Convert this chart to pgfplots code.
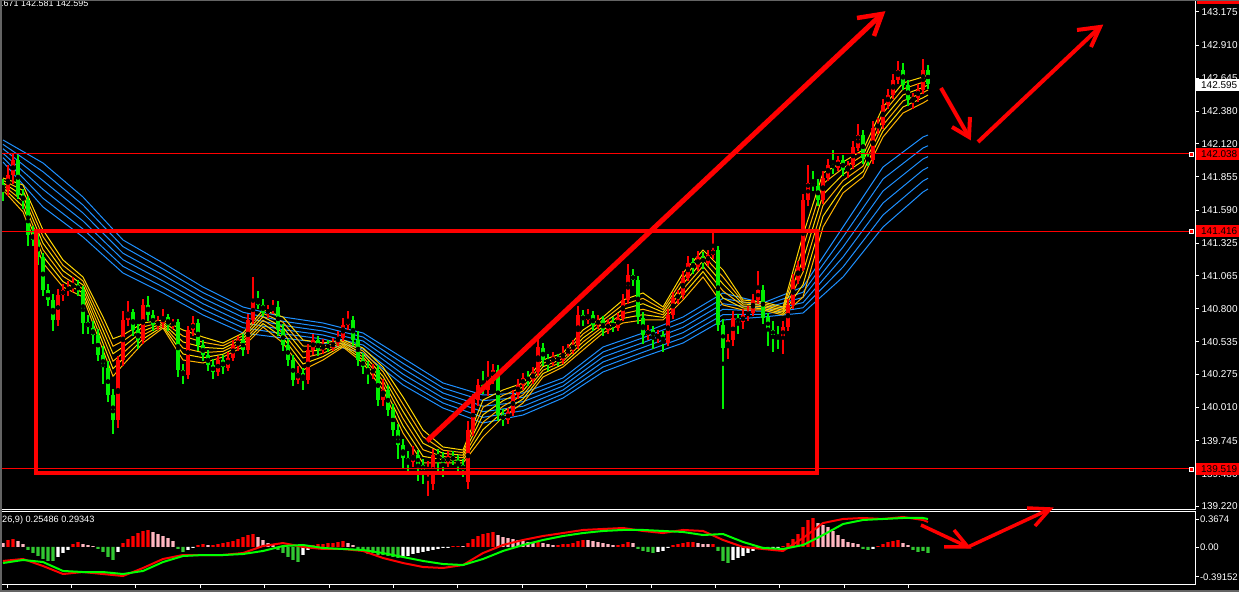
\documentclass[border=0pt]{standalone}
\usepackage{fontspec}
\setmainfont{Liberation Sans}
\usepackage{pgfplots}
\usepackage{pgfplotstable}
\pgfplotsset{compat=1.18}
\definecolor{bull}{RGB}{255,0,0}
\definecolor{bear}{RGB}{0,240,0}
\definecolor{ygold}{RGB}{255,215,0}
\definecolor{yorng}{RGB}{255,180,0}
\definecolor{dblue}{RGB}{30,144,255}
\definecolor{hpink}{RGB}{255,182,193}
\definecolor{hgreen}{RGB}{50,200,50}
\definecolor{lgreen}{RGB}{0,255,0}
\definecolor{strip}{RGB}{100,100,100}

\pgfplotstableread{
o h l c
141.80 141.84 141.66 141.75
141.75 141.95 141.70 141.87
141.87 142.05 141.80 141.99
141.99 142.03 141.68 141.71
141.71 141.76 141.60 141.67
141.67 141.70 141.30 141.39
141.39 141.46 141.30 141.35
141.35 141.40 141.15 141.21
141.21 141.25 140.90 140.95
140.95 141.00 140.82 140.87
140.87 140.92 140.62 140.71
140.71 140.96 140.66 140.91
140.91 141.00 140.86 140.95
140.95 141.02 140.90 140.97
140.97 141.05 140.93 140.99
140.99 141.03 140.90 140.95
140.95 140.98 140.60 140.69
140.69 140.75 140.60 140.65
140.65 140.70 140.52 140.59
140.59 140.64 140.38 140.43
140.43 140.50 140.20 140.33
140.33 140.38 140.05 140.11
140.11 140.16 139.80 139.91
139.91 140.42 139.85 140.39
140.39 140.78 140.34 140.71
140.71 140.86 140.66 140.77
140.77 140.80 140.58 140.63
140.63 140.68 140.48 140.55
140.55 140.88 140.52 140.83
140.83 140.90 140.70 140.75
140.75 140.79 140.62 140.67
140.67 140.74 140.63 140.69
140.69 140.80 140.65 140.73
140.73 140.76 140.62 140.67
140.67 140.72 140.64 140.69
140.69 140.72 140.25 140.31
140.31 140.36 140.20 140.27
140.27 140.66 140.24 140.63
140.63 140.74 140.58 140.69
140.69 140.72 140.46 140.51
140.51 140.55 140.38 140.43
140.43 140.47 140.30 140.35
140.35 140.40 140.24 140.29
140.29 140.42 140.26 140.39
140.39 140.43 140.28 140.33
140.33 140.45 140.30 140.41
140.41 140.55 140.38 140.51
140.51 140.58 140.46 140.55
140.55 140.60 140.42 140.47
140.47 140.76 140.44 140.71
140.71 141.05 140.68 140.87
140.87 140.94 140.80 140.83
140.83 140.88 140.74 140.77
140.77 140.83 140.73 140.79
140.79 140.87 140.76 140.81
140.81 140.86 140.58 140.63
140.63 140.68 140.46 140.51
140.51 140.56 140.34 140.39
140.39 140.43 140.18 140.23
140.23 140.34 140.20 140.29
140.29 140.33 140.15 140.23
140.23 140.52 140.20 140.47
140.47 140.60 140.43 140.55
140.55 140.58 140.42 140.47
140.47 140.56 140.44 140.51
140.51 140.55 140.45 140.49
140.49 140.57 140.46 140.53
140.53 140.62 140.50 140.57
140.57 140.73 140.54 140.67
140.67 140.78 140.63 140.71
140.71 140.74 140.50 140.55
140.55 140.62 140.34 140.39
140.39 140.45 140.28 140.33
140.33 140.38 140.20 140.29
140.29 140.36 140.24 140.31
140.31 140.35 140.02 140.07
140.07 140.24 140.02 140.15
140.15 140.19 139.94 139.99
139.99 140.04 139.78 139.83
139.83 139.88 139.60 139.71
139.71 139.76 139.52 139.61
139.61 139.66 139.48 139.57
139.57 139.70 139.53 139.63
139.63 139.67 139.42 139.55
139.55 139.60 139.40 139.51
139.51 139.58 139.30 139.53
139.40 139.68 139.35 139.63
139.63 139.68 139.50 139.61
139.61 139.65 139.45 139.57
139.57 139.66 139.53 139.62
139.62 139.66 139.55 139.59
139.59 139.63 139.48 139.55
139.55 139.60 139.45 139.51
139.41 139.90 139.36 139.83
139.83 140.12 139.78 140.07
140.07 140.24 140.02 140.19
140.19 140.30 140.12 140.15
140.15 140.38 140.10 140.25
140.25 140.36 140.20 140.31
140.31 140.35 139.90 139.95
139.95 140.00 139.86 139.91
139.91 140.01 139.88 139.97
139.97 140.15 139.94 140.11
140.11 140.24 140.08 140.19
140.19 140.29 140.15 140.25
140.25 140.30 140.18 140.23
140.23 140.33 140.20 140.29
140.29 140.56 140.26 140.49
140.49 140.53 140.34 140.39
140.39 140.44 140.30 140.37
140.37 140.45 140.34 140.41
140.41 140.44 140.34 140.39
140.39 140.50 140.36 140.45
140.45 140.52 140.42 140.47
140.47 140.55 140.44 140.51
140.51 140.82 140.48 140.75
140.75 140.79 140.66 140.71
140.71 140.80 140.68 140.75
140.75 140.78 140.62 140.67
140.67 140.75 140.64 140.71
140.71 140.74 140.58 140.63
140.63 140.72 140.60 140.69
140.69 140.73 140.61 140.65
140.65 140.77 140.62 140.73
140.73 140.92 140.70 140.87
140.87 141.16 140.84 141.07
141.07 141.12 140.98 141.03
141.03 141.06 140.68 140.73
140.73 140.77 140.52 140.59
140.59 140.67 140.55 140.63
140.63 140.66 140.48 140.57
140.57 140.63 140.53 140.59
140.59 140.62 140.45 140.53
140.53 140.80 140.50 140.75
140.75 140.93 140.72 140.89
140.89 140.95 140.84 140.91
140.91 141.10 140.88 141.05
141.05 141.22 141.02 141.17
141.17 141.21 141.08 141.13
141.13 141.26 141.10 141.21
141.21 141.25 141.12 141.17
141.17 141.27 141.14 141.23
141.23 141.41 141.20 141.27
141.27 141.30 140.62 140.67
140.67 140.72 140.00 140.49
140.49 140.60 140.40 140.55
140.55 140.78 140.50 140.73
140.73 140.76 140.60 140.69
140.69 140.80 140.64 140.75
140.75 140.82 140.70 140.77
140.77 140.92 140.74 140.87
140.87 141.10 140.84 140.95
140.95 140.99 140.68 140.73
140.73 140.77 140.50 140.63
140.63 140.70 140.45 140.59
140.59 140.66 140.48 140.57
140.57 140.70 140.44 140.65
140.65 140.88 140.62 140.83
140.83 141.08 140.80 141.03
141.03 141.18 141.00 141.13
141.13 141.72 141.10 141.67
141.67 141.95 141.62 141.81
141.81 141.90 141.74 141.78
141.78 141.84 141.62 141.67
141.67 141.90 141.64 141.85
141.85 142.00 141.82 141.95
141.95 142.07 141.88 141.93
141.93 142.02 141.90 141.99
141.99 142.03 141.86 141.91
141.91 141.98 141.85 141.95
141.95 142.14 141.92 142.09
142.09 142.28 142.06 142.19
142.19 142.23 141.96 142.01
142.01 142.05 141.94 141.99
141.99 142.30 141.96 142.25
142.25 142.33 142.20 142.27
142.27 142.48 142.24 142.43
142.43 142.56 142.40 142.51
142.51 142.68 142.48 142.63
142.63 142.78 142.60 142.71
142.71 142.77 142.55 142.59
142.59 142.63 142.42 142.47
142.47 142.53 142.40 142.49
142.49 142.60 142.45 142.55
142.55 142.80 142.52 142.71
142.71 142.75 142.56 142.60
}\candles

\pgfplotstableread{
i y1 y2 y3 y4 y5 y6
0 141.846 141.827 141.808 141.788 141.769 141.750
4 141.790 141.747 141.704 141.660 141.617 141.574
8 141.430 141.377 141.324 141.272 141.219 141.166
12 141.190 141.147 141.104 141.060 141.017 140.974
16 141.054 141.022 140.990 140.958 140.926 140.894
20 140.734 140.681 140.628 140.576 140.523 140.470
22 140.560 140.500 140.440 140.380 140.320 140.260
24 140.590 140.542 140.494 140.446 140.398 140.350
28 140.686 140.654 140.622 140.590 140.558 140.526
32 140.710 140.697 140.684 140.672 140.659 140.646
36 140.630 140.582 140.534 140.486 140.438 140.390
40 140.574 140.532 140.491 140.449 140.408 140.366
44 140.526 140.504 140.481 140.459 140.436 140.414
48 140.606 140.584 140.561 140.539 140.516 140.494
52 140.790 140.763 140.736 140.708 140.681 140.654
56 140.734 140.692 140.651 140.609 140.568 140.526
60 140.550 140.502 140.454 140.406 140.358 140.310
64 140.526 140.499 140.472 140.444 140.417 140.390
68 140.550 140.539 140.528 140.516 140.505 140.494
72 140.486 140.462 140.438 140.414 140.390 140.366
76 140.334 140.297 140.260 140.224 140.187 140.150
80 140.094 140.036 139.979 139.921 139.864 139.806
84 139.830 139.777 139.724 139.672 139.619 139.566
88 139.694 139.668 139.643 139.617 139.592 139.566
92 139.670 139.649 139.628 139.608 139.587 139.566
96 140.070 140.011 139.952 139.892 139.833 139.774
100 140.150 140.107 140.064 140.020 139.977 139.934
104 140.206 140.174 140.142 140.110 140.078 140.046
108 140.390 140.363 140.336 140.308 140.281 140.254
112 140.446 140.424 140.401 140.379 140.356 140.334
116 140.630 140.598 140.566 140.534 140.502 140.470
120 140.734 140.708 140.683 140.657 140.632 140.606
124 140.870 140.833 140.796 140.760 140.723 140.686
128 140.926 140.883 140.840 140.796 140.753 140.710
132 140.814 140.793 140.772 140.752 140.731 140.710
136 141.086 141.043 141.000 140.956 140.913 140.870
140 141.270 141.227 141.184 141.140 141.097 141.054
144 141.110 141.054 140.998 140.942 140.886 140.830
148 140.870 140.854 140.838 140.822 140.806 140.790
152 140.854 140.841 140.828 140.816 140.803 140.790
156 140.814 140.801 140.788 140.776 140.763 140.750
160 141.390 141.291 141.192 141.092 140.993 140.894
164 141.886 141.800 141.713 141.627 141.540 141.454
168 141.974 141.924 141.875 141.825 141.776 141.726
172 142.070 142.027 141.984 141.940 141.897 141.854
176 142.414 142.366 142.318 142.270 142.222 142.174
180 142.606 142.558 142.510 142.462 142.414 142.366
184 142.654 142.612 142.571 142.529 142.488 142.446
185 142.670 142.630 142.590 142.550 142.510 142.470
}\yel

\pgfplotstableread{
i b1 b2 b3 b4 b5 b6
0 142.150 142.115 142.080 142.044 142.009 141.974
8 141.966 141.896 141.825 141.755 141.684 141.614
16 141.694 141.630 141.566 141.502 141.438 141.374
24 141.350 141.297 141.244 141.192 141.139 141.086
32 141.166 141.118 141.070 141.022 140.974 140.926
40 140.974 140.929 140.884 140.840 140.795 140.750
48 140.814 140.772 140.731 140.689 140.648 140.606
56 140.734 140.700 140.667 140.633 140.600 140.566
64 140.686 140.654 140.622 140.590 140.558 140.526
72 140.606 140.574 140.542 140.510 140.478 140.446
80 140.406 140.363 140.320 140.276 140.233 140.190
88 140.206 140.166 140.126 140.086 140.046 140.006
96 140.110 140.065 140.020 139.976 139.931 139.886
104 140.126 140.091 140.056 140.020 139.985 139.950
112 140.246 140.214 140.182 140.150 140.118 140.086
120 140.494 140.454 140.414 140.374 140.334 140.294
128 140.606 140.568 140.529 140.491 140.452 140.414
136 140.734 140.692 140.651 140.609 140.568 140.526
144 140.926 140.883 140.840 140.796 140.753 140.710
152 140.846 140.824 140.801 140.779 140.756 140.734
160 140.974 140.932 140.891 140.849 140.808 140.766
168 141.454 141.374 141.294 141.214 141.134 141.054
176 141.934 141.838 141.742 141.646 141.550 141.454
184 142.174 142.086 141.998 141.910 141.822 141.734
185 142.190 142.104 142.017 141.931 141.844 141.758
}\blu

\pgfplotstableread{
i r g
0 -0.183 -0.210
4 -0.157 -0.170
8 -0.249 -0.197
12 -0.354 -0.314
16 -0.328 -0.328
20 -0.354 -0.328
24 -0.380 -0.354
28 -0.275 -0.314
32 -0.157 -0.197
36 -0.105 -0.118
40 -0.105 -0.105
44 -0.105 -0.105
48 -0.079 -0.092
52 0.013 -0.052
56 0.052 0.013
60 0.000 0.026
64 -0.026 -0.013
68 -0.026 -0.026
72 -0.052 -0.039
76 -0.144 -0.079
80 -0.210 -0.131
84 -0.262 -0.183
88 -0.275 -0.223
92 -0.236 -0.236
96 -0.079 -0.157
100 0.026 -0.052
104 0.092 0.026
108 0.144 0.092
112 0.183 0.144
116 0.223 0.183
120 0.236 0.210
124 0.249 0.223
128 0.210 0.223
132 0.183 0.210
136 0.223 0.197
140 0.210 0.157
144 0.092 0.170
148 0.000 0.066
152 -0.026 -0.013
156 -0.052 -0.026
160 0.118 0.026
164 0.314 0.157
168 0.367 0.301
172 0.380 0.354
176 0.367 0.367
180 0.393 0.380
184 0.354 0.380
185 0.328 0.367
}\macd

\pgfplotstableread{
i v
1 0.091
2 0.104
14 0.039
15 0.065
24 0.052
25 0.104
26 0.143
27 0.182
28 0.208
29 0.221
39 0.026
40 0.039
42 0.026
43 0.039
44 0.052
45 0.065
46 0.078
47 0.104
48 0.130
49 0.156
50 0.169
62 0.026
63 0.039
64 0.039
65 0.052
66 0.052
67 0.065
68 0.078
90 0.013
91 0.013
93 0.052
94 0.104
95 0.143
96 0.169
97 0.182
98 0.195
107 0.065
111 0.026
112 0.039
113 0.039
114 0.052
115 0.078
116 0.091
123 0.026
124 0.039
125 0.065
134 0.026
135 0.039
136 0.052
137 0.065
138 0.065
142 0.039
156 0.013
157 0.052
158 0.104
159 0.169
160 0.260
161 0.351
162 0.377
175 0.013
176 0.039
177 0.065
178 0.078
179 0.091
}\hred

\pgfplotstableread{
i v
0 0.052
3 0.078
4 0.039
16 0.039
17 0.026
18 0.013
30 0.195
31 0.169
32 0.143
33 0.117
34 0.078
41 0.026
51 0.130
52 0.091
53 0.052
54 0.026
69 0.052
70 0.026
92 0.013
99 0.156
100 0.130
101 0.117
102 0.104
103 0.091
104 0.078
105 0.065
106 0.052
108 0.052
109 0.039
110 0.026
117 0.091
118 0.078
119 0.065
120 0.052
121 0.039
122 0.026
126 0.052
139 0.052
140 0.039
141 0.039
163 0.312
164 0.286
165 0.260
166 0.208
167 0.156
168 0.104
169 0.065
170 0.052
171 0.039
180 0.052
181 0.026
}\hpnk

\pgfplotstableread{
i v
5 -0.039
6 -0.078
7 -0.117
8 -0.156
9 -0.182
10 -0.182
19 -0.026
20 -0.065
21 -0.130
22 -0.169
35 -0.026
36 -0.065
55 -0.039
56 -0.078
57 -0.130
58 -0.169
59 -0.195
71 -0.039
72 -0.065
73 -0.091
74 -0.078
75 -0.104
76 -0.104
77 -0.117
78 -0.130
79 -0.143
127 -0.026
128 -0.052
129 -0.065
130 -0.078
143 -0.052
144 -0.182
145 -0.208
152 -0.026
153 -0.026
172 -0.026
173 -0.039
182 -0.039
183 -0.065
184 -0.052
185 -0.078
}\hgrn

\pgfplotstableread{
i v
11 -0.130
12 -0.078
13 -0.039
23 -0.065
37 -0.039
38 -0.013
60 -0.104
61 -0.039
80 -0.130
81 -0.117
82 -0.091
83 -0.078
84 -0.065
85 -0.052
86 -0.039
87 -0.026
88 -0.013
89 -0.013
131 -0.065
132 -0.052
133 -0.013
146 -0.169
147 -0.143
148 -0.117
149 -0.078
150 -0.052
151 -0.026
154 -0.026
155 -0.013
174 -0.026
}\hwht

\begin{document}
\begin{tikzpicture}[x=1bp,y=1bp]
\fill[black] (0,0) rectangle (1239,592);

% ---------- main price panel ----------
\begin{axis}[
  at={(0bp,83bp)}, anchor=south west,
  width=1195bp, height=504bp, scale only axis,
  xmin=-0.6, xmax=238.4, ymin=139.198, ymax=143.23,
  axis line style={draw=none},
  xtick=\empty,
  ytick={143.175,142.910,142.645,142.380,142.120,141.855,141.590,141.325,141.065,140.800,140.535,140.275,140.010,139.745,139.480,139.220},
  yticklabels={143.175,142.910,142.645,142.380,142.120,141.855,141.590,141.325,141.065,140.800,140.535,140.275,140.010,139.745,139.480,139.220},
  ytick pos=right, yticklabel pos=right,
  tick align=outside, major tick length=4bp,
  tick style={white, line width=0.8bp},
  yticklabel style={text=white, font=\fontsize{10}{12}\selectfont, xshift=-1bp},
]
% blue (long) averages
\addplot[dblue, line width=1bp] table[x=i, y=b1] {\blu};
\addplot[dblue, line width=1bp] table[x=i, y=b2] {\blu};
\addplot[dblue, line width=1bp] table[x=i, y=b3] {\blu};
\addplot[dblue, line width=1bp] table[x=i, y=b4] {\blu};
\addplot[dblue, line width=1bp] table[x=i, y=b5] {\blu};
\addplot[dblue, line width=1bp] table[x=i, y=b6] {\blu};
% yellow (short) averages
\addplot[ygold, line width=1bp] table[x=i, y=y1] {\yel};
\addplot[yorng, line width=1bp] table[x=i, y=y2] {\yel};
\addplot[ygold, line width=1bp] table[x=i, y=y3] {\yel};
\addplot[yorng, line width=1bp] table[x=i, y=y4] {\yel};
\addplot[ygold, line width=1bp] table[x=i, y=y5] {\yel};
\addplot[yorng, line width=1bp] table[x=i, y=y6] {\yel};
% wicks
\addplot[only marks, mark=none, error bars/.cd, y dir=both, y explicit, error mark=none,
  error bar style={draw=bull, line width=1.2bp}]
  table[x expr=\coordindex, y expr={\thisrow{c}>\thisrow{o} ? (\thisrow{h}+\thisrow{l})/2 : nan},
        y error expr={(\thisrow{h}-\thisrow{l})/2}] {\candles};
\addplot[only marks, mark=none, error bars/.cd, y dir=both, y explicit, error mark=none,
  error bar style={draw=bear, line width=1.2bp}]
  table[x expr=\coordindex, y expr={\thisrow{c}<\thisrow{o} ? (\thisrow{h}+\thisrow{l})/2 : nan},
        y error expr={(\thisrow{h}-\thisrow{l})/2}] {\candles};
% bodies
\addplot[only marks, mark=none, error bars/.cd, y dir=both, y explicit, error mark=none,
  error bar style={draw=bull, line width=3.8bp}]
  table[x expr=\coordindex, y expr={\thisrow{c}>\thisrow{o} ? (\thisrow{o}+\thisrow{c})/2 : nan},
        y error expr={(\thisrow{c}-\thisrow{o})/2}] {\candles};
\addplot[only marks, mark=none, error bars/.cd, y dir=both, y explicit, error mark=none,
  error bar style={draw=bear, line width=3.8bp}]
  table[x expr=\coordindex, y expr={\thisrow{c}<\thisrow{o} ? (\thisrow{o}+\thisrow{c})/2 : nan},
        y error expr={(\thisrow{o}-\thisrow{c})/2}] {\candles};
\end{axis}

% ---------- MACD panel ----------
\begin{axis}[
  at={(0bp,8bp)}, anchor=south west,
  width=1195bp, height=73bp, scale only axis,
  xmin=-0.6, xmax=238.4, ymin=-0.4847, ymax=0.4716,
  axis line style={white, line width=0.8bp},
  xtick={0.8,13.68,26.56,39.44,52.32,65.2,78.08,90.96,103.84,116.72,129.6,142.48,155.36,168.24,181.12},
  xticklabels={}, xtick pos=bottom,
  ytick={-0.39152,0,0.3674}, yticklabels={-0.39152,0.00,0.3674},
  ytick pos=right, yticklabel pos=right,
  tick align=outside, major tick length=4bp,
  tick style={white, line width=0.8bp},
  yticklabel style={text=white, font=\fontsize{9.6}{12}\selectfont, xshift=-2.5bp},
]
\addplot[ybar, bar width=3.2bp, bar shift=0bp, fill=bull, draw=none] table[x=i, y=v] {\hred};
\addplot[ybar, bar width=3.2bp, bar shift=0bp, fill=hpink, draw=none] table[x=i, y=v] {\hpnk};
\addplot[ybar, bar width=3.2bp, bar shift=0bp, fill=hgreen, draw=none] table[x=i, y=v] {\hgrn};
\addplot[ybar, bar width=3.2bp, bar shift=0bp, fill=white, draw=none] table[x=i, y=v] {\hwht};
\addplot[bull, line width=2bp] table[x=i, y=r] {\macd};
\addplot[lgreen, line width=2bp] table[x=i, y=g] {\macd};
\end{axis}

% main panel frame (right and bottom)
\draw[white, line width=0.8bp] (1195.4,592) -- (1195.4,83) -- (0,83);

% horizontal price lines with end markers
\foreach \yy in {438,360.5,123}{
  \draw[bull, line width=1bp] (0,\yy) -- (1192,\yy);
  \draw[white, fill=bull, line width=0.7bp] (1189.5,\yy-2) rectangle (1193.5,\yy+2);
}
% price label boxes
\fill[bull] (1196,432) rectangle (1239,444);
\node[anchor=west, inner sep=0, text=black, font=\fontsize{10}{12}\selectfont] at (1201,438) {142.038};
\fill[bull] (1196,354.5) rectangle (1239,366.5);
\node[anchor=west, inner sep=0, text=black, font=\fontsize{10}{12}\selectfont] at (1201,360.5) {141.416};
\fill[bull] (1196,117) rectangle (1239,129);
\node[anchor=west, inner sep=0, text=black, font=\fontsize{10}{12}\selectfont] at (1201,123) {139.519};
\fill[white] (1196,501) rectangle (1239,513);
\node[anchor=west, inner sep=0, text=black, font=\fontsize{10}{12}\selectfont] at (1201,507) {142.595};
\fill[bull] (1197,588) rectangle (1239,592);

% red drawings: box and arrows
\draw[bull, line width=4bp] (35.5,361) rectangle (816.5,118.5);
\draw[bull, line width=5bp] (427,151) -- (882,578);
\draw[bull, line width=4.5bp, line join=miter] (857,574) -- (882,578) -- (874,556);
\draw[bull, line width=4bp] (941,504) -- (969,455);
\draw[bull, line width=4bp, line join=miter] (952,465) -- (969,455) -- (970,475);
\draw[bull, line width=4bp] (978,450) -- (1100,565);
\draw[bull, line width=4bp, line join=miter] (1077,562) -- (1100,565) -- (1091,545);
\draw[bull, line width=3.5bp] (921,67) -- (968,45);
\draw[bull, line width=3.5bp, line join=miter] (944,45) -- (968,45) -- (954,62);
\draw[bull, line width=3.5bp] (968,45) -- (1050,83);
\draw[bull, line width=3.5bp, line join=miter] (1027,84) -- (1050,83) -- (1035,66);

% header texts
\node[anchor=north west, inner sep=0, text=white, font=\fontsize{9}{11}\selectfont] at (1,591.5) {.671 142.581 142.595};
\node[anchor=west, inner sep=0, text=white, font=\fontsize{9.2}{11}\selectfont] at (2,72) {26,9) 0.25486 0.29343};

% window strips
\fill[strip] (0,590.5) rectangle (1239,592);
\fill[strip] (0,0) rectangle (2,592);
\fill[strip] (0,0) rectangle (1239,2);

\pgfresetboundingbox
\useasboundingbox (0,0) rectangle (1239,592);
\end{tikzpicture}
\end{document}
